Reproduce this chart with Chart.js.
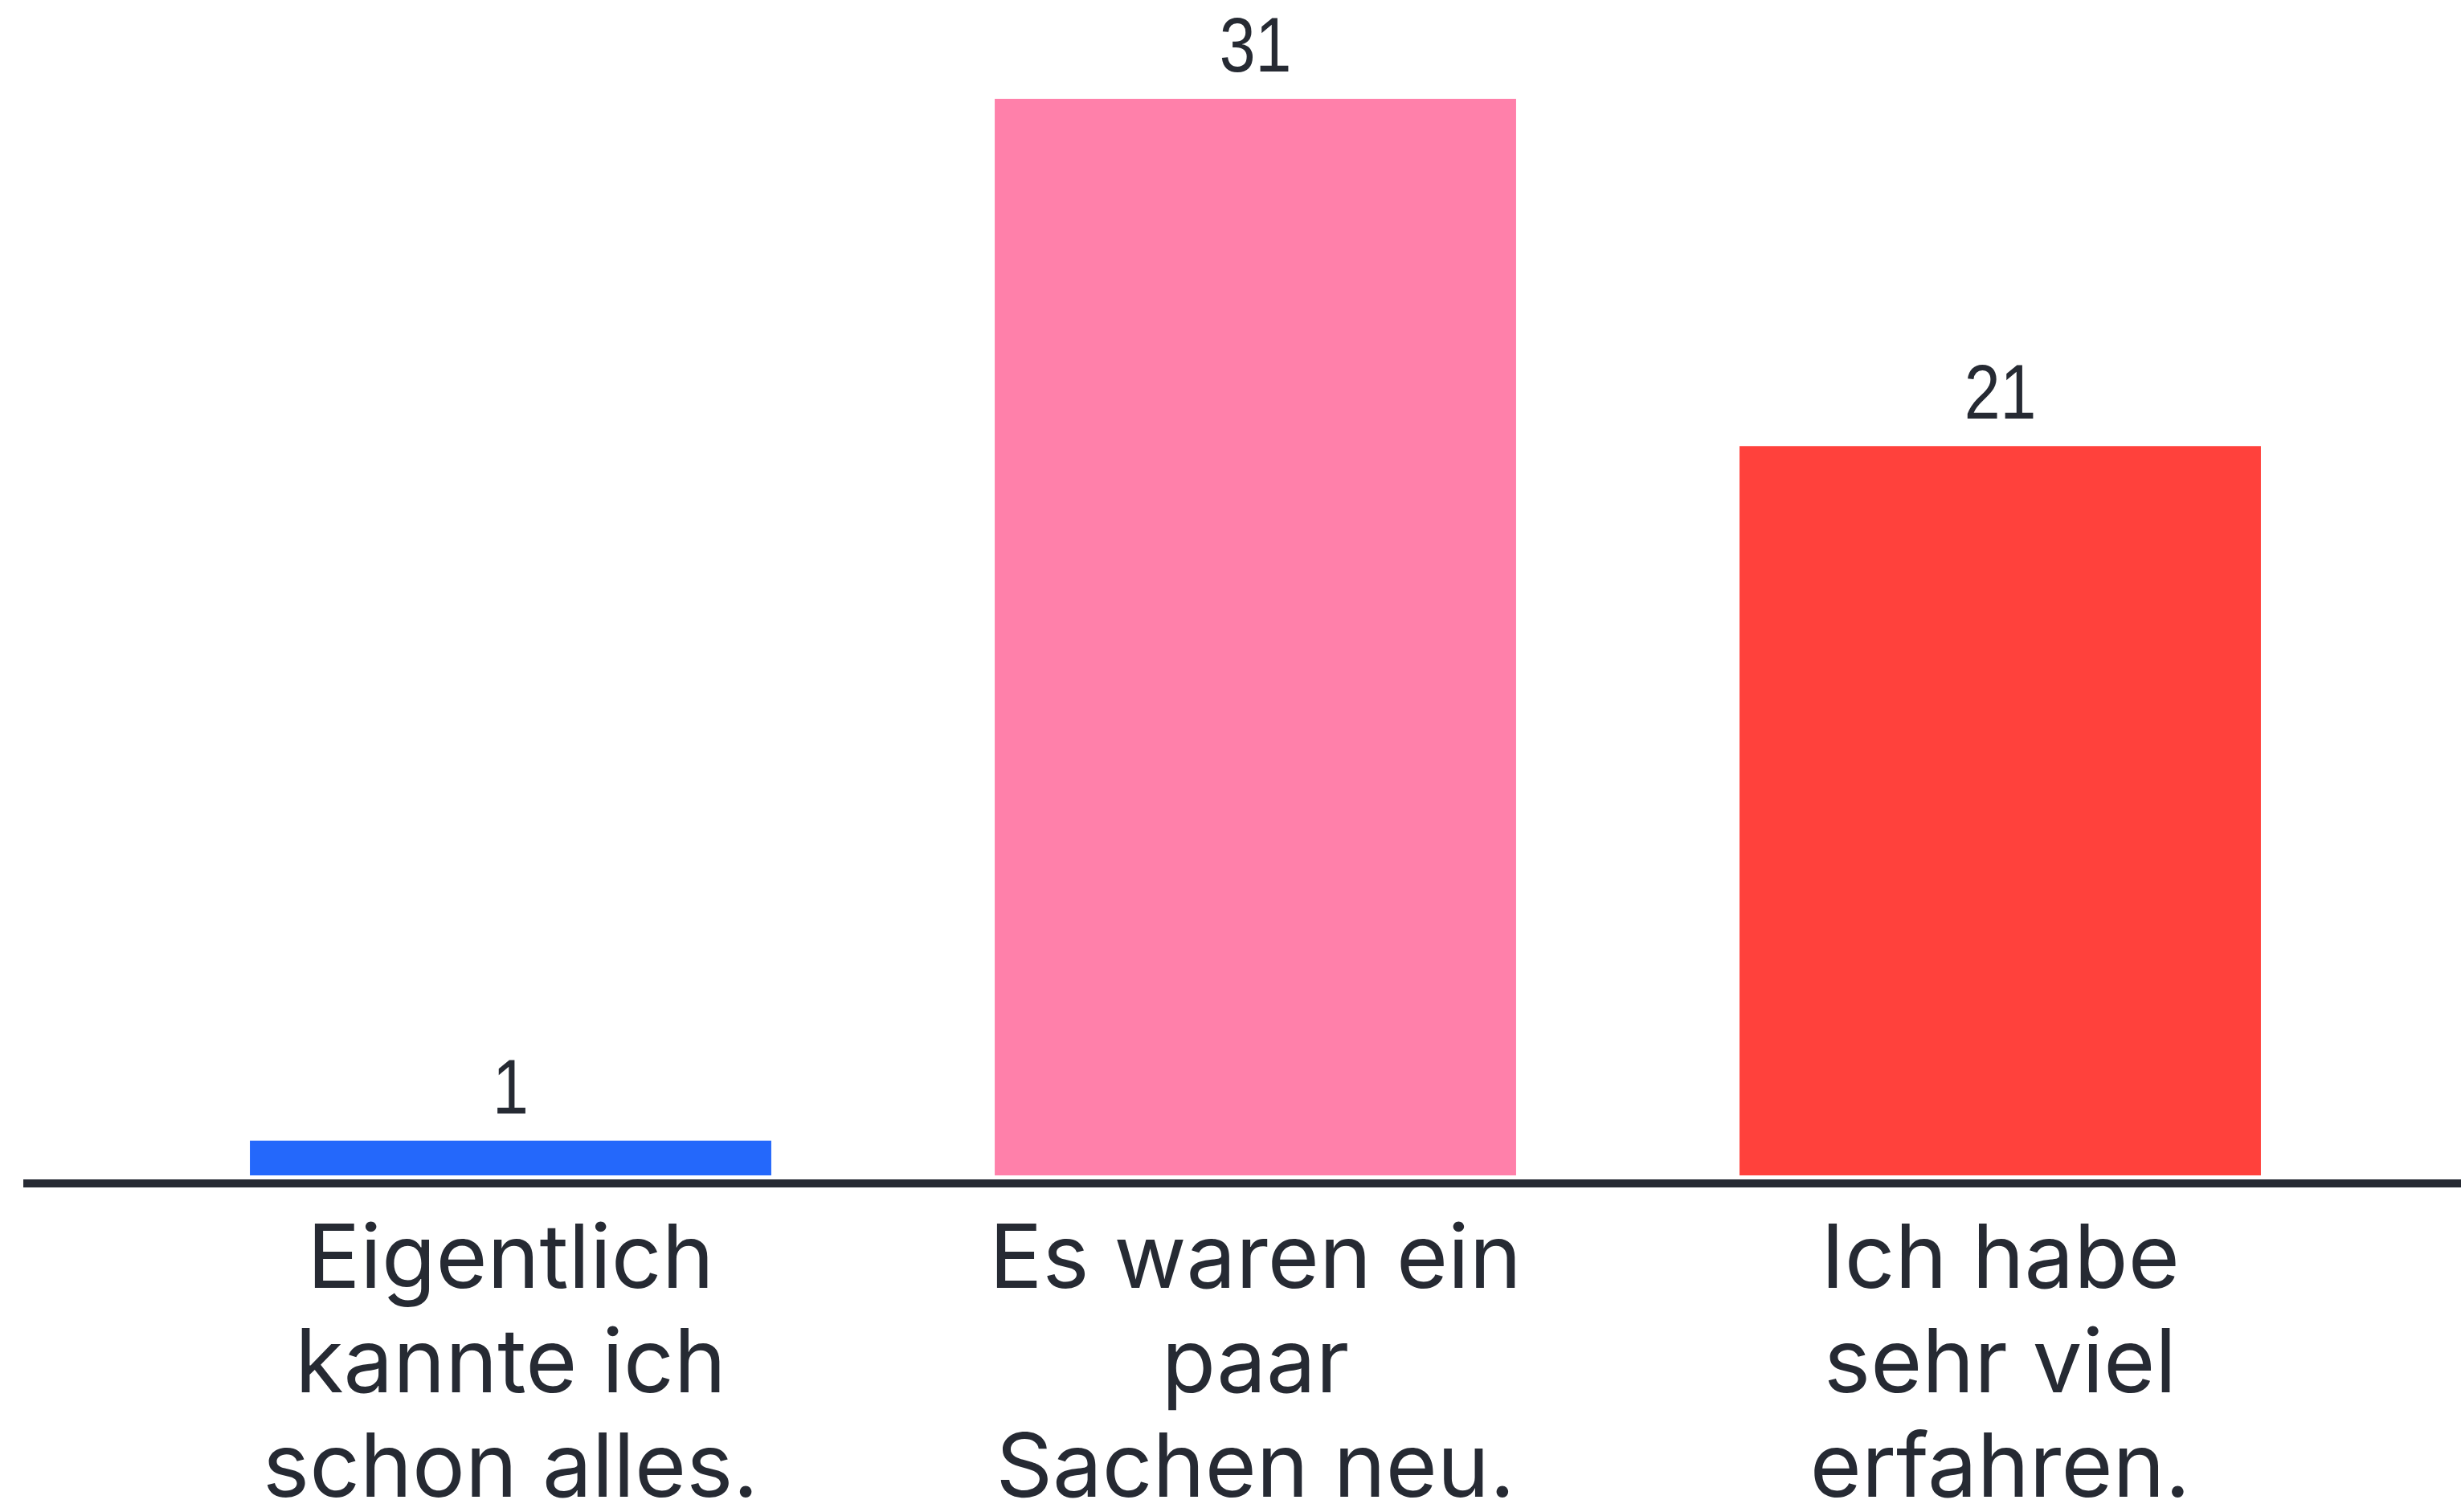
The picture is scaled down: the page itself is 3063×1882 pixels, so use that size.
<!DOCTYPE html>
<html>
<head>
<meta charset="utf-8">
<script src="https://cdn.jsdelivr.net/npm/chart.js@4.4.1/dist/chart.umd.min.js"></script>
<style>
    html, body { margin: 0; padding: 0; background: #fff; }
    #wrap { width: 3063px; height: 1882px; }
</style>
</head>
<body>
<div id="wrap"><canvas id="barChart"></canvas></div>
<script>
// ── DATA ──
const categories = [
    ['Eigentlich', 'kannte ich', 'schon alles.'],
    ['Es waren ein', 'paar', 'Sachen neu.'],
    ['Ich habe', 'sehr viel', 'erfahren.']
];
const counts = [1, 31, 21];
const barColors = ['#2468fb', '#ff80aa', '#ff413c'];

const TEXT = '#262a33';

// value above each bar (narrow digits, so squeeze horizontally)
const valueLabels = {
    id: 'valueLabels',
    afterDatasetsDraw(chart) {
        const ctx = chart.ctx;
        const meta = chart.getDatasetMeta(0);
        const squeeze = 0.84;
        meta.data.forEach((bar, i) => {
            ctx.save();
            ctx.font = '96px "Liberation Sans", Arial, sans-serif';
            ctx.fillStyle = TEXT;
            ctx.textAlign = 'center';
            ctx.textBaseline = 'alphabetic';
            ctx.translate(bar.x, bar.y - 34);
            ctx.scale(squeeze, 1);
            ctx.fillText(String(counts[i]), 0, 0);
            ctx.restore();
        });
    }
};

// baseline running nearly the full width
const baseLine = {
    id: 'baseLine',
    afterDatasetsDraw(chart) {
        const ctx = chart.ctx;
        const y0 = chart.scales.y.getPixelForValue(0);
        ctx.save();
        ctx.fillStyle = TEXT;
        ctx.fillRect(29, y0 + 5, chart.width - 29, 10);
        ctx.restore();
    }
};

new Chart(document.getElementById('barChart').getContext('2d'), {
    type: 'bar',
    data: {
        labels: categories,
        datasets: [{
            data: counts,
            backgroundColor: barColors,
            borderWidth: 0,
            barPercentage: 0.7,
            categoryPercentage: 1.0
        }]
    },
    options: {
        responsive: true,
        maintainAspectRatio: false,
        animation: false,
        layout: { padding: { left: 172, right: 110, top: 123, bottom: 0 } },
        plugins: { legend: { display: false }, tooltip: { enabled: false } },
        scales: {
            y: {
                display: false,
                min: 0, max: 31
            },
            x: {
                afterFit(scale) { scale.height = 419; },
                grid: { display: false, drawTicks: false },
                border: { display: false },
                ticks: {
                    color: TEXT,
                    padding: 42,
                    maxRotation: 0,
                    autoSkip: false,
                    font: { size: 110, family: 'Inter, "Noto Sans", sans-serif', lineHeight: 1.18 }
                }
            }
        }
    },
    plugins: [valueLabels, baseLine]
});
</script>
</body>
</html>
